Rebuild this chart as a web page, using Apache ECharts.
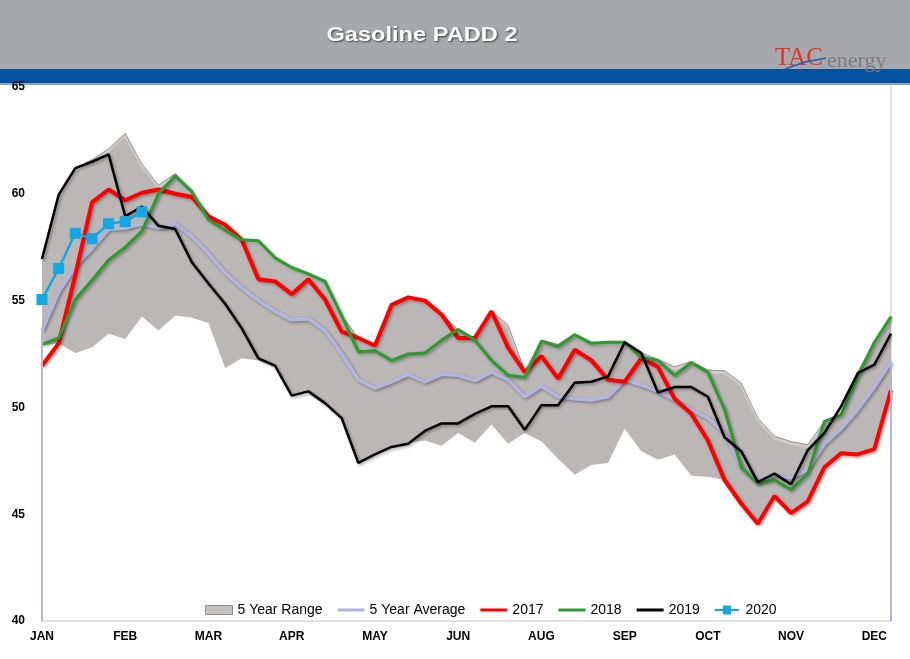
<!DOCTYPE html>
<html><head><meta charset="utf-8">
<script src="https://cdn.jsdelivr.net/npm/echarts@6/dist/echarts.min.js"></script>
<style>html,body{margin:0;padding:0;background:#fff}#c{width:910px;height:659px}</style>
</head><body><div id="c"></div>
<script>
var weeks = [1,2,3,4,5,6,7,8,9,10,11,12,13,14,15,16,17,18,19,20,21,22,23,24,25,26,27,28,29,30,31,32,33,34,35,36,37,38,39,40,41,42,43,44,45,46,47,48,49,50,51,52];
var monthLabels = ['JAN','FEB','MAR','APR','MAY','JUN','AUG','SEP','OCT','NOV','DEC'];
var yTicks = [40,45,50,55,60,65];

var rangeLow = [52.9,53.0,52.55,52.8,53.45,53.2,54.25,53.6,54.3,54.2,53.95,51.85,52.3,52.2,51.9,50.55,50.75,50.25,49.5,47.4,47.8,48.15,48.35,48.45,48.2,48.8,48.35,49.2,48.3,48.8,48.4,47.6,46.85,47.3,47.4,49.0,47.95,47.55,47.8,46.8,46.75,46.6,45.5,44.55,45.85,45.05,45.6,47.2,47.85,47.8,48.05,50.8];
var rangeHigh = [57.0,60.0,61.2,61.6,62.1,62.83,61.4,60.4,60.95,60.1,58.95,58.55,57.85,57.8,57.0,56.55,56.25,55.95,54.3,53.25,52.95,54.8,55.2,55.0,54.35,53.65,53.25,54.5,53.85,51.7,53.15,52.95,53.45,53.05,53.05,53.05,52.55,52.25,51.9,52.15,51.75,51.72,51.15,49.5,48.65,48.4,48.25,49.35,49.7,51.65,53.05,54.25];
var avg5 = [53.6,55.4,56.6,57.45,58.35,58.4,58.6,58.4,58.6,58.0,57.2,56.3,55.6,55.0,54.5,54.1,54.15,53.6,52.5,51.3,50.9,51.2,51.55,51.2,51.55,51.5,51.25,51.65,51.3,50.5,51.0,50.5,50.4,50.35,50.5,51.3,51.05,50.75,50.35,49.9,49.5,48.8,47.2,46.5,46.85,46.7,47.1,48.3,49.0,49.9,50.95,52.15];
var y2017 = [51.95,53.0,56.2,59.6,60.2,59.7,60.05,60.2,60.0,59.85,58.95,58.55,57.85,56.0,55.9,55.3,56.0,55.05,53.55,53.25,52.9,54.8,55.15,55.0,54.35,53.25,53.25,54.5,52.8,51.65,52.4,51.35,52.7,52.2,51.3,51.2,52.3,51.9,50.4,49.7,48.45,46.6,45.5,44.55,45.85,45.05,45.6,47.2,47.85,47.8,48.05,50.8];
var y2018 = [52.95,53.25,55.05,55.95,56.9,57.5,58.25,60.0,60.85,60.1,58.8,58.3,57.85,57.8,57.0,56.55,56.25,55.9,54.3,52.6,52.65,52.2,52.5,52.55,53.15,53.65,53.15,52.2,51.5,51.4,53.1,52.85,53.4,53.0,53.05,53.05,52.35,52.2,51.5,52.1,51.65,49.9,47.2,46.45,46.6,46.15,46.9,49.35,49.65,51.45,53.05,54.25];
var y2019 = [56.95,59.95,61.2,61.5,61.85,58.95,59.4,58.5,58.35,56.8,55.8,54.85,53.7,52.3,51.95,50.55,50.75,50.2,49.5,47.4,47.8,48.15,48.3,48.9,49.25,49.25,49.7,50.05,50.05,48.95,50.1,50.1,51.15,51.2,51.45,53.05,52.55,50.7,50.95,50.95,50.5,48.6,47.95,46.5,46.9,46.4,48.0,48.8,50.05,51.6,52.0,53.45];
var y2020 = [55.05,56.5,58.15,57.9,58.6,58.7,59.15];

var rangeBand = rangeHigh.map(function(v,i){return +(v - rangeLow[i]).toFixed(3);});
var labelFont = 'Liberation Sans Narrow, Arial Narrow, Liberation Sans, Arial, sans-serif';
var shadow = {shadowColor:'rgba(0,0,0,0.35)', shadowBlur:3, shadowOffsetX:1.5, shadowOffsetY:1.5};
var lineIcon = 'path://M0,0 L27,0 L27,3 L0,3 Z';
var markerIcon = 'path://M0,4 L27,4 L27,6 L0,6 Z M9,0 L18,0 L18,10 L9,10 Z';

var chart = echarts.init(document.getElementById('c'));
chart.setOption({
  animation:false,
  backgroundColor:'#ffffff',
  graphic:[
    {type:'rect', left:0, top:0, shape:{width:910,height:69}, style:{fill:'#a7a8ab'}, z:0},
    {type:'rect', left:0, top:69, shape:{width:910,height:14}, style:{fill:'#0452a0'}, z:0},
    {type:'rect', left:0, top:83, shape:{width:910,height:2}, style:{fill:'#8aa3c9'}, z:0},
    {type:'text', x:422, y:35, scaleX:1.18, originX:0, originY:0, style:{text:'Gasoline PADD 2', fill:'#ffffff', font:'bold 20px "Liberation Sans", Arial, sans-serif', textAlign:'center', textVerticalAlign:'middle', textShadowColor:'rgba(0,0,0,0.6)', textShadowBlur:2, textShadowOffsetX:1, textShadowOffsetY:1.5}, z:5},
    {type:'text', x:775, y:71, style:{text:'TAC', fill:'#e5322d', font:'25px "Liberation Serif", serif', textVerticalAlign:'bottom'}, z:5},
    {type:'text', x:827, y:72, style:{text:'energy', fill:'#7d7d7d', font:'22px "Liberation Serif", serif', textVerticalAlign:'bottom'}, z:5},
    {type:'polyline', shape:{points:[[785,69],[805,62],[826,58]]}, style:{stroke:'#1f5fb0', lineWidth:1.5, fill:null}, z:6}
  ],
  legend:{
    left:200, top:598, itemWidth:27, itemHeight:9, itemGap:15, selectedMode:false,
    textStyle:{fontFamily:labelFont, fontSize:14, color:'#000'},
    data:[
      {name:'5 Year Range', icon:'rect', itemStyle:{color:'#c4c1c0', borderColor:'#8f8c8b', borderWidth:1}},
      {name:'5 Year Average', icon:lineIcon, itemStyle:{color:'#b3b5dc'}},
      {name:'2017', icon:lineIcon, itemStyle:{color:'#ff0000'}},
      {name:'2018', icon:lineIcon, itemStyle:{color:'#2f9a2f'}},
      {name:'2019', icon:lineIcon, itemStyle:{color:'#000000'}},
      {name:'2020', icon:markerIcon, itemStyle:{color:'#13a8e2'}}
    ]
  },
  grid:{left:42, right:19, top:87, bottom:38, containLabel:false},
  xAxis:{
    type:'category', data:weeks, boundaryGap:false,
    axisLine:{show:true, lineStyle:{color:'#d9d9d9', width:1.5}},
    axisTick:{show:false},
    axisLabel:{interval:0, margin:10, color:'#000', fontWeight:'bold', fontSize:12, fontFamily:labelFont,
      formatter:function(v,i){return i%5===0 ? (monthLabels[i/5]||'') : '';}}
  },
  yAxis:[{
    type:'value', min:yTicks[0], max:yTicks[yTicks.length-1], interval:5,
    axisLine:{show:false}, axisTick:{show:false}, splitLine:{show:false},
    axisLabel:{margin:17, color:'#000', fontWeight:'bold', fontSize:12, fontFamily:labelFont}
  },{
    type:'value', position:'right', min:40, max:65, interval:5,
    axisLine:{show:true, lineStyle:{color:'#d9d9d9', width:1.5}}, axisTick:{show:false}, axisLabel:{show:false}, splitLine:{show:false}
  }],
  series:[
    {name:'rangeBase', type:'line', stack:'r', data:rangeLow, symbol:'none', lineStyle:{width:0}, silent:true, z:1},
    {name:'5 Year Range', type:'line', stack:'r', data:rangeBand, symbol:'none', z:1,
      lineStyle:{color:'#9a9695', width:1, shadowColor:'rgba(255,255,255,0.9)', shadowBlur:2, shadowOffsetY:2},
      itemStyle:{color:'#b9b5b4'},
      areaStyle:{color:'#bbb7b6', opacity:1}},
    {name:'5 Year Average', type:'line', data:avg5, symbol:'none', z:3,
      lineStyle:Object.assign({color:'#b3b5dc', width:3.5}, shadow), itemStyle:{color:'#b3b5dc'},
      markLine:{silent:true, symbol:'none', label:{show:false}, lineStyle:{color:'#b3b5dc', width:2, type:'solid'},
        data:[[{coord:[0,40]},{coord:[0,avg5[0]]}],[{coord:[51,40]},{coord:[51,avg5[51]]}]]}},
    {name:'2017', type:'line', data:y2017, symbol:'none', z:4,
      lineStyle:Object.assign({color:'#ff0000', width:4}, shadow), itemStyle:{color:'#ff0000'}},
    {name:'2018', type:'line', data:y2018, symbol:'none', z:4,
      lineStyle:Object.assign({color:'#2f9a2f', width:3}, shadow), itemStyle:{color:'#2f9a2f'}},
    {name:'2019', type:'line', data:y2019, symbol:'none', z:5,
      lineStyle:Object.assign({color:'#000000', width:2.5}, shadow), itemStyle:{color:'#000000'}},
    {name:'2020', type:'line', data:y2020, symbol:'rect', symbolSize:11, z:6,
      lineStyle:{color:'#13a8e2', width:2.5}, itemStyle:{color:'#13a8e2'}}
  ]
});
</script></body></html>
